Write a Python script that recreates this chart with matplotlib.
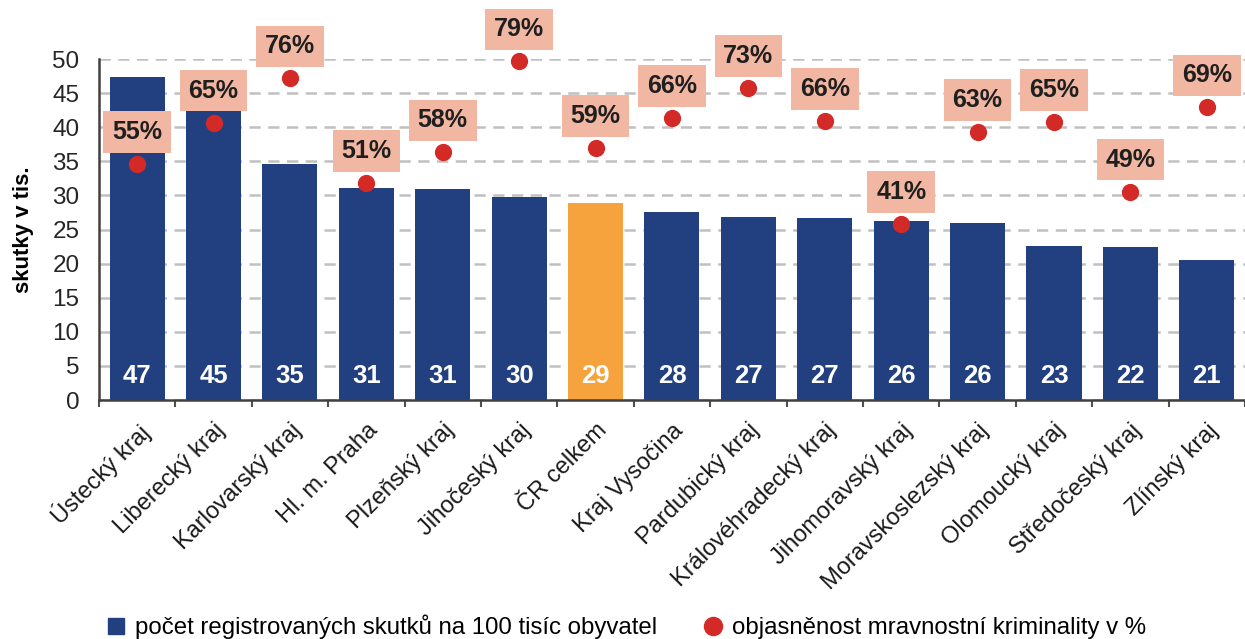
import matplotlib
matplotlib.use('Agg')
import matplotlib.pyplot as plt
import numpy as np
from matplotlib.lines import Line2D
from matplotlib.ticker import FixedLocator, NullFormatter

plt.rcParams['font.family'] = ['Liberation Sans', 'DejaVu Sans']

regions = ['Ústecký kraj', 'Liberecký kraj', 'Karlovarský kraj', 'Hl. m. Praha',
           'Plzeňský kraj', 'Jihočeský kraj', 'ČR celkem', 'Kraj Vysočina',
           'Pardubický kraj', 'Královéhradecký kraj', 'Jihomoravský kraj',
           'Moravskoslezský kraj', 'Olomoucký kraj', 'Středočeský kraj', 'Zlínský kraj']
skutky = [47.4, 44.8, 34.6, 31.1, 30.9, 29.8, 28.9, 27.6, 26.8, 26.7, 26.3, 26.0, 22.6, 22.4, 20.6]
skutky_labels = ['47', '45', '35', '31', '31', '30', '29', '28', '27', '27', '26', '26', '23', '22', '21']
objasnenost = [55.4, 65.1, 75.5, 50.9, 58.1, 79.5, 59.2, 66.2, 73.2, 65.5, 41.3, 62.9, 65.3, 48.9, 68.7]
pct_labels = ['55%', '65%', '76%', '51%', '58%', '79%', '59%', '66%', '73%', '66%', '41%', '63%', '65%', '49%', '69%']

NAVY = '#22407f'
ORANGE = '#f6a33d'
RED = '#d42a27'
SALMON = '#f2b7a2'

fig = plt.figure(figsize=(12.45, 6.39), dpi=100)
ax = fig.add_axes([0.0795, 0.374, 0.9205, 0.5335])

x = np.arange(len(regions))
colors = [ORANGE if r == 'ČR celkem' else NAVY for r in regions]
ax.bar(x, skutky, width=0.72, color=colors, zorder=2)

# dashed horizontal grid
ax.set_ylim(0, 50)
ax.set_xlim(-0.5, len(regions) - 0.5)
ax.set_yticks(np.arange(0, 51, 5))
ax.yaxis.grid(True, linestyle=(0, (4.5, 3)), color='#c0c0c0', linewidth=1.8, zorder=0)
ax.set_axisbelow(True)
ax.tick_params(axis='y', length=0, labelsize=17.5, pad=14, colors='#262626')

for s in ['top', 'right']:
    ax.spines[s].set_visible(False)
for s in ['left', 'bottom']:
    ax.spines[s].set_color('#404040')
    ax.spines[s].set_linewidth(1.8)

# category labels and boundary ticks
ax.set_xticks(x)
ax.set_xticklabels(regions, rotation=45, ha='right', rotation_mode='anchor', fontsize=17, color='#1a1a1a')
ax.tick_params(axis='x', which='major', length=0, pad=14)
ax.xaxis.set_minor_locator(FixedLocator(np.arange(-0.5, len(regions), 1.0)))
ax.xaxis.set_minor_formatter(NullFormatter())
ax.tick_params(axis='x', which='minor', length=5, width=1.5, color='#505050')

ax.set_ylabel('skutky v tis.', fontsize=16, fontweight='bold', labelpad=13)

# value labels inside bars
for xi, lab in zip(x, skutky_labels):
    ax.text(xi, 3.5, lab, ha='center', va='center', color='white',
            fontsize=18.5, fontweight='bold', zorder=4)

# secondary scale for percentages
ax2 = ax.twinx()
ax2.set_ylim(0, 80)
ax2.axis('off')
ax2.scatter(x, objasnenost, s=130, color=RED, zorder=5, clip_on=False)
for xi, v, lab in zip(x, objasnenost, pct_labels):
    ax2.annotate(lab, (xi, v), xytext=(0, 23), textcoords='offset points',
                 ha='center', va='center', fontsize=18, fontweight='bold', color='#1f1f1f',
                 bbox=dict(boxstyle='square,pad=0.35', fc=SALMON, ec='none'),
                 annotation_clip=False, zorder=6)

handles = [Line2D([], [], marker='s', linestyle='none', color=NAVY, markersize=11),
           Line2D([], [], marker='o', linestyle='none', color=RED, markersize=13)]
fig.legend(handles, ['počet registrovaných skutků na 100 tisíc obyvatel',
                     'objasněnost mravnostní kriminality v %'],
           loc='lower center', bbox_to_anchor=(0.502, -0.034), ncol=2, frameon=False,
           fontsize=17.3, handletextpad=0.3, columnspacing=1.8, handlelength=1.0)

fig.savefig('out.png', dpi=100)
